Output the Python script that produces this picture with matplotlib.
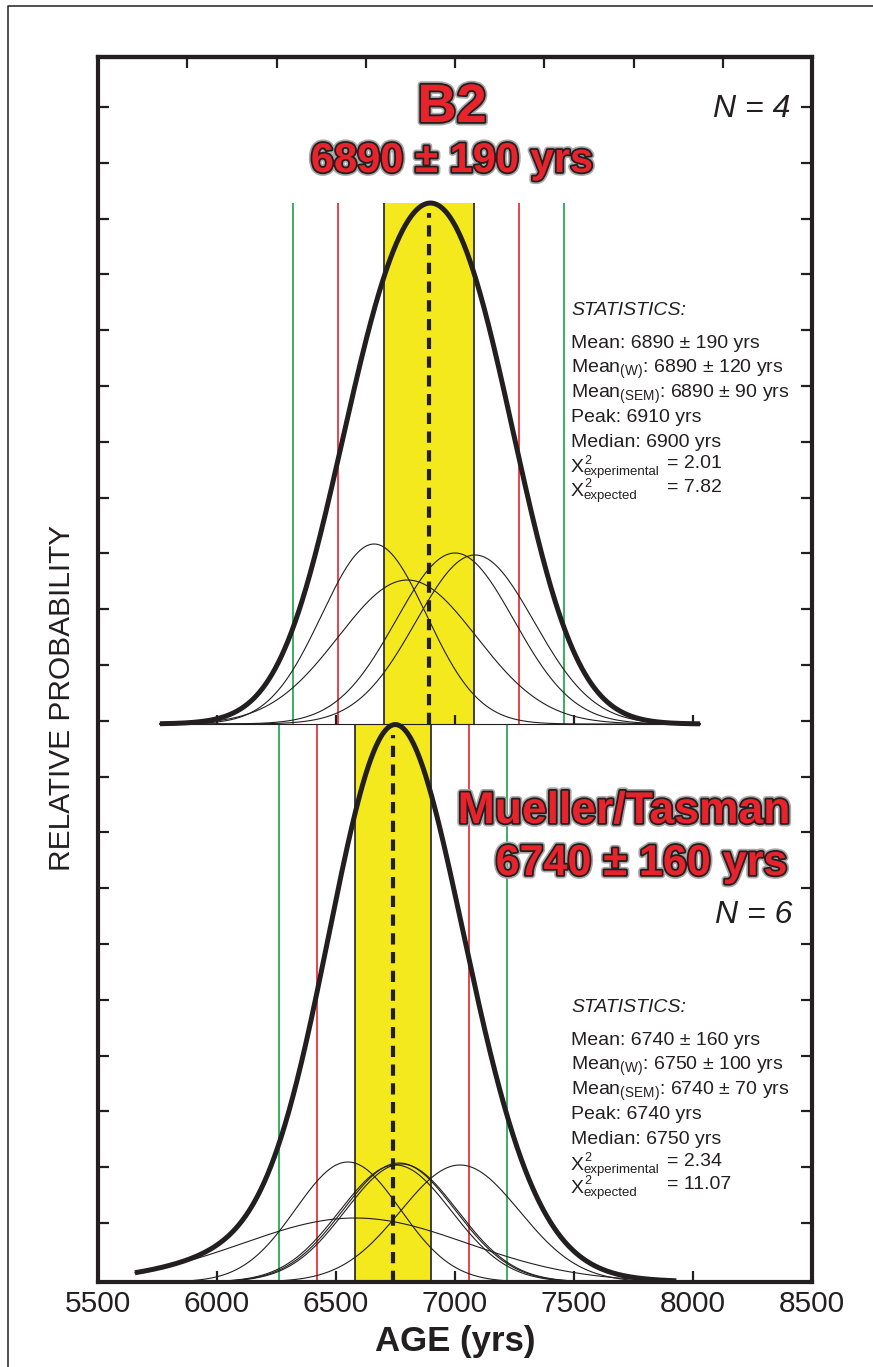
import numpy as np
import matplotlib
matplotlib.use("Agg")
import matplotlib.pyplot as plt
from matplotlib import patheffects as pe
from matplotlib.lines import Line2D

# ---------------- data ----------------
x_ticks = [5500, 6000, 6500, 7000, 7500, 8000, 8500]

b2_ages = [6660, 6800, 7000, 7084]
b2_sigmas = [220, 290, 248, 248]
b2_heights = [180, 144, 171, 169]
b2_mean, b2_sd = 6890, 190
b2_range = (5760, 8030)
b2_title = "B2"
b2_sub = "6890 ± 190 yrs"
b2_n = "N = 4"
b2_stats = ["Mean: 6890 ± 190 yrs",
            "Mean$_\\mathregular{(W)}$: 6890 ± 120 yrs",
            "Mean$_\\mathregular{(SEM)}$: 6890 ± 90 yrs",
            "Peak: 6910 yrs",
            "Median: 6900 yrs"]
b2_chi = [("experimental", "= 2.01"), ("expected", "= 7.82")]

mt_ages = [6550, 6750, 6765, 6775, 7021, 6580]
mt_sigmas = [220, 235, 235, 235, 250, 470]
mt_heights = [120, 117, 119, 118, 117, 64]
mt_mean, mt_sd = 6740, 160
mt_range = (5655, 7930)
mt_title = "Mueller/Tasman"
mt_sub = "6740 ± 160 yrs"
mt_n = "N = 6"
mt_stats = ["Mean: 6740 ± 160 yrs",
            "Mean$_\\mathregular{(W)}$: 6750 ± 100 yrs",
            "Mean$_\\mathregular{(SEM)}$: 6740 ± 70 yrs",
            "Peak: 6740 yrs",
            "Median: 6750 yrs"]
mt_chi = [("experimental", "= 2.34"), ("expected", "= 11.07")]

# ---------------- style ----------------
INK = "#231f20"
RED = "#e8232b"
GREEN = "#16a24a"
YELLOW = "#f3e91c"
SANS = ["Liberation Sans", "DejaVu Sans"]
plt.rcParams["font.family"] = SANS

W, H = 873, 1367
fig = plt.figure(figsize=(W / 100, H / 100), dpi=100)
AX_L, AX_R, AX_T, AX_B = 98, 812, 57, 1282
ax = fig.add_axes([AX_L / W, 1 - AX_B / H, (AX_R - AX_L) / W, (AX_B - AX_T) / H])
ax.set_xlim(5500, 8500)
ax.set_ylim(0, AX_B - AX_T)


def px(xp, yp):
    """pixel -> data coordinates (layout helper)"""
    return 5500 + (xp - AX_L) / (AX_R - AX_L) * 3000, AX_B - yp


for s in ax.spines.values():
    s.set_linewidth(3)
    s.set_color(INK)

ax.set_xticks(x_ticks)
ax.set_xticklabels([str(v) for v in x_ticks], fontsize=21.5, color=INK)
ax.tick_params(axis="x", direction="in", length=8, width=1.6, pad=6, color=INK)
ax.set_yticks(59 + 55.8 * np.arange(21))
ax.tick_params(axis="y", direction="in", length=8, width=1.6, left=True,
               right=True, labelleft=False, color=INK)
sec = ax.secondary_xaxis("top")
sec.set_xticks(5500 + 375 * np.arange(1, 8))
sec.tick_params(direction="in", length=8, width=1.6, labeltop=False, color=INK)
sec.spines["top"].set_linewidth(3)

ax.set_xlabel("AGE (yrs)", fontsize=25, fontweight="bold", color=INK, labelpad=5)
fig.text(62 / W, 1 - 698 / H, "RELATIVE PROBABILITY", rotation=90, fontsize=21.5,
         color=INK, ha="center", va="center")

# outer frame (left and top)
fig.add_artist(Line2D([8 / W, 8 / W, 1], [0, 1 - 6 / H, 1 - 6 / H],
                      transform=fig.transFigure, color=INK, lw=1.1))


def panel(ages, sigmas, heights, mean, sd, xr, base, baseline_ticks=False):
    x = np.linspace(xr[0], xr[1], 1200)
    comps = [h * np.exp(-0.5 * ((x - a) / s) ** 2)
             for a, s, h in zip(ages, sigmas, heights)]
    total = np.sum(comps, axis=0)
    top = base + total.max()
    ax.fill_between([mean - sd, mean + sd], base, top, color=YELLOW, lw=0, zorder=1)
    ax.vlines([mean - sd, mean + sd], base, top, color=INK, lw=1.2, zorder=2)
    ax.vlines([mean - 2 * sd, mean + 2 * sd], base, top, color=RED, lw=1.2, zorder=2)
    ax.vlines([mean - 3 * sd, mean + 3 * sd], base, top, color=GREEN, lw=1.2, zorder=2)
    if baseline_ticks:
        ax.hlines(base, xr[0], xr[1], color=INK, lw=0.8, zorder=3)
        ticks = [t for t in x_ticks if xr[0] < t < xr[1]]
        ax.vlines(ticks, base, base + 9, color=INK, lw=1.6, zorder=3)
    for c in comps:
        ax.plot(x, base + c, color=INK, lw=0.8, zorder=3)
    ax.plot(x, base + total, color=INK, lw=3.6, zorder=4, solid_capstyle="butt")
    ax.plot([mean, mean], [base, top - 10], color=INK, lw=3,
            linestyle=(0, (2.7, 1.8)), zorder=5)


TOP_BASE = AX_B - 724
panel(b2_ages, b2_sigmas, b2_heights, b2_mean, b2_sd, b2_range, TOP_BASE, True)
panel(mt_ages, mt_sigmas, mt_heights, mt_mean, mt_sd, mt_range, 0)

halo = [pe.Stroke(linewidth=5.0, foreground="#a8a8a8"),
        pe.Stroke(linewidth=2.6, foreground=INK), pe.Normal()]


def t(xp, yp, s, **kw):
    ax.text(*px(xp, yp), s, **kw)


# titles
t(452, 122, b2_title, fontsize=39, fontweight="bold", color=RED, ha="center",
  va="baseline", path_effects=halo, zorder=6)
t(452, 172, b2_sub, fontsize=30, fontweight="bold", color=RED, ha="center",
  va="baseline", path_effects=halo, zorder=6)
t(790, 117, b2_n, fontsize=23, style="italic", color=INK, ha="right", va="baseline")

t(791, 823, mt_title, fontsize=32, fontweight="bold", color=RED, ha="right",
  va="baseline", path_effects=halo, zorder=6)
t(787, 875, mt_sub, fontsize=31, fontweight="bold", color=RED, ha="right",
  va="baseline", path_effects=halo, zorder=6)
t(792, 923, mt_n, fontsize=23, style="italic", color=INK, ha="right", va="baseline")


def stats(y0, lines, chi):
    x0 = 571
    t(x0, y0, "STATISTICS:", fontsize=14, style="italic", color=INK, va="baseline")
    y = y0 + 33
    for s in lines:
        t(x0, y, s, fontsize=14, color=INK, va="baseline")
        y += 24.7
    for sub, val in chi:
        t(x0, y + 1, "X", fontsize=14, color=INK, va="baseline")
        t(x0 + 13, y - 8, "2", fontsize=9, color=INK, va="baseline")
        t(x0 + 13, y + 4, sub, fontsize=9.5, color=INK, va="baseline")
        t(667, y - 3, val, fontsize=14, color=INK, va="baseline")
        y += 23.5


stats(315, b2_stats, b2_chi)
stats(1012, mt_stats, mt_chi)

fig.savefig("out.png", dpi=100)
